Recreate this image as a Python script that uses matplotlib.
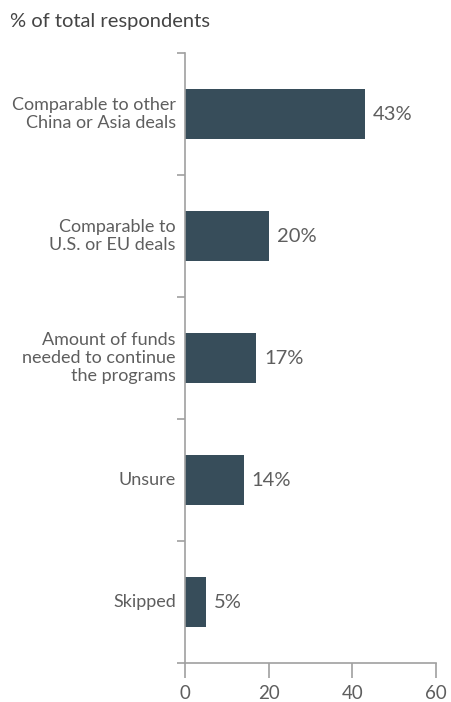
import numpy as np
import matplotlib.pyplot as plt

categories = [
    "Comparable to other\nChina or Asia deals",
    "Comparable to\nU.S. or EU deals",
    "Amount of funds\nneeded to continue\nthe programs",
    "Unsure",
    "Skipped",
]
values = [43, 20, 17, 14, 5]
x_ticks = [0, 20, 40, 60]

bar_color = "#374d5a"
text_color = "#5e5e5e"
axis_color = "#a0a0a0"

plt.rcParams["font.family"] = ["Lato", "DejaVu Sans"]

fig = plt.figure(figsize=(4.52, 7.02), dpi=100)
ax = fig.add_axes([185 / 452, 39 / 702, 251 / 452, 610 / 702])

y = np.arange(len(categories))
ax.barh(y, values, height=0.41, color=bar_color)
ax.set_ylim(len(categories) - 0.5, -0.5)
ax.set_xlim(0, 60)

for yi, v in zip(y, values):
    ax.text(v + 1.9, yi, f"{v}%", va="center", ha="left",
            fontsize=14.5, color=text_color)

# category labels placed left of the axis, ticks sit between categories
for yi, c in zip(y, categories):
    ax.text(-2.2, yi, c, va="center", ha="right", fontsize=13.0,
            color=text_color, linespacing=1.17)

ax.set_yticks(np.arange(len(categories) + 1) - 0.5)
ax.set_yticklabels([])
ax.set_xticks(x_ticks)
ax.set_xticklabels([str(t) for t in x_ticks])

for s in ["top", "right"]:
    ax.spines[s].set_visible(False)
for s in ["left", "bottom"]:
    ax.spines[s].set_color(axis_color)
    ax.spines[s].set_linewidth(1.2)

ax.tick_params(axis="y", direction="out", length=6, width=1.2, color=axis_color)
ax.tick_params(axis="x", direction="out", length=11, width=1.2, color=axis_color,
               labelsize=13.5, labelcolor=text_color, pad=5)

fig.text(10 / 452, 1 - 21 / 702, "% of total respondents", va="center", ha="left",
         fontsize=14.5, color="#444444")

fig.savefig("out.png", dpi=100)
